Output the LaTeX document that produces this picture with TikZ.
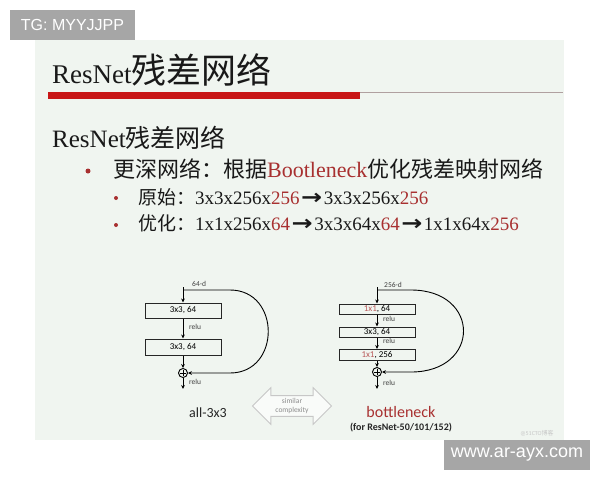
\documentclass[tikz,border=0pt]{standalone}
\usepackage{graphicx}
\usepackage{fontspec}
\setmainfont{Liberation Serif}
\setsansfont{Carlito}
\newfontfamily\cjk{Noto Sans CJK SC}
\newfontfamily\wmfont{Liberation Sans}
\newfontfamily\arwfont{DejaVu Sans}
\usetikzlibrary{arrows.meta,positioning,calc,shapes.arrows}
\definecolor{slidebg}{RGB}{240,245,240}
\definecolor{barred}{RGB}{200,22,22}
\definecolor{txtred}{RGB}{168,48,48}
\definecolor{wmgray}{RGB}{166,166,166}
\newcommand{\redtxt}[1]{\textcolor{txtred}{#1}}
\newcommand{\rarw}{\kern1.5pt{\arwfont\bfseries\fontsize{21}{21}\selectfont\scalebox{1.2}[1]{→}}\kern1.5pt}
\tikzset{
  line/.style={anchor=base west, inner sep=0, text=black!90},
  dotmark/.style={circle, fill=txtred, inner sep=0, minimum size=#1},
  convbox/.style={draw=black!85, line width=1pt, inner sep=0, minimum width=76pt, font=\sffamily\fontsize{9}{9}\selectfont},
  lbl/.style={anchor=west, inner sep=0, text=black!75, font=\sffamily\fontsize{7.5}{7.5}\selectfont},
  flow/.style={-{Stealth[length=4pt,width=3.6pt]}, line width=0.9pt},
  sumnode/.style={circle, draw, line width=0.9pt, minimum size=9pt, inner sep=0,
    path picture={\draw[line width=0.7pt]
      ($(path picture bounding box.center)+(-2.8,0)$) -- ($(path picture bounding box.center)+(2.8,0)$)
      ($(path picture bounding box.center)+(0,-2.8)$) -- ($(path picture bounding box.center)+(0,2.8)$);}},
  cmplx/.style={double arrow, draw=black!22, fill=white!60!slidebg, line width=0.8pt,
    minimum height=79pt, double arrow head extend=8pt, inner sep=2.5pt, align=center,
    text=black!45, font=\sffamily\fontsize{7.5}{8.5}\selectfont},
  wmark/.style={fill=wmgray, text=white, inner sep=0, minimum height=30pt}
}

\begin{document}
\begin{tikzpicture}[x=1pt, y=-1pt]
  \useasboundingbox (0,0) rectangle (600,480);
  \fill[white] (0,0) rectangle (600,480);
  \fill[slidebg] (35,40) rectangle (564,440);
  % title bar
  \fill[barred] (48,92) rectangle (360,99);
  \draw[line width=0.8pt, color={rgb,255:red,176;green,160;blue,160}] (360,92.4) -- (563,92.4);

  \node[line, font=\fontsize{27}{27}\selectfont] (title) at (52,83) {ResNet{\cjk\fontsize{35}{35}\selectfont 残差网络}};
  \node[line, font=\fontsize{25}{25}\selectfont] (sub) at (52,147) {ResNet{\cjk 残差网络}};

  % bullets
  \node[dotmark=5pt] (d1) at (88,171) {};
  \node[line, font=\fontsize{22}{22}\selectfont] (b1) at (113,177) {{\cjk 更深网络：根据}\redtxt{Bootleneck}{\cjk 优化残差映射网络}};
  \node[dotmark=4pt] (d2) at (116,198) {};
  \node[line, font=\fontsize{19}{19}\selectfont] (b2) at (138,204) {{\cjk 原始：}3x3x256x\redtxt{256}\rarw 3x3x256x\redtxt{256}};
  \node[dotmark=4pt] (d3) at (116,225) {};
  \node[line, font=\fontsize{19}{19}\selectfont] (b3) at (138,230) {{\cjk 优化：}1x1x256x\redtxt{64}\rarw 3x3x64x\redtxt{64}\rarw 1x1x64x\redtxt{256}};

  % plain block
  \coordinate (in1) at (183,287);
  \coordinate (sk1) at (183,290);
  \node[convbox, minimum height=15pt] (c11) at (183,310.5) {3x3, 64};
  \node[convbox, minimum height=16pt, below=20pt of c11] (c12) {3x3, 64};
  \node[sumnode] (s1) at (183,373) {};
  \coordinate (out1) at (183,389);
  \node[lbl] (dim1) at (192,284) {64-d};
  \node[lbl] (r11) at (189,327) {relu};
  \node[lbl] (r12) at (189,382) {relu};
  \draw[flow] (in1) -- (c11);
  \draw[flow] (c11) -- (c12);
  \draw[flow] (c12) -- (s1);
  \draw[flow] (s1) -- (out1);
  \draw[flow] (sk1) -- ++(47,0) .. controls +(51,0) and +(51,0) .. ($(s1)+(47,0)$) -- (s1);

  % bottleneck block
  \coordinate (in2) at (377,287);
  \coordinate (sk2) at (377,290);
  \node[convbox, minimum height=10pt] (c21) at (377,309) {\textcolor{txtred!80}{1x1}, 64};
  \node[convbox, minimum height=10.5pt, below=12pt of c21] (c22) {3x3, 64};
  \node[convbox, minimum height=10.5pt, below=11pt of c22] (c23) {\textcolor{txtred!80}{1x1}, 256};
  \node[sumnode] (s2) at (377,372) {};
  \coordinate (out2) at (377,389);
  \node[lbl] (dim2) at (384,285) {256-d};
  \node[lbl] (r21) at (383,319) {relu};
  \node[lbl] (r22) at (383,341) {relu};
  \node[lbl] (r23) at (383,383) {relu};
  \foreach \a/\b in {in2/c21,c21/c22,c22/c23,c23/s2,s2/out2}
    \draw[flow] (\a) -- (\b);
  \draw[flow] (sk2) -- ++(34,0) .. controls +(70,0) and +(70,0) .. ($(s2)+(34,0)$) -- (s2);

  \node[font=\sffamily\fontsize{14}{14}\selectfont, text=black!85] (lab1) at (208,413) {all-3x3};
  \node[cmplx] (cx) at (292,406) {similar\\complexity};
  \node[font=\sffamily\fontsize{16}{16}\selectfont, text=txtred] (lab2) at (401,412) {bottleneck};
  \node[font=\sffamily\bfseries\fontsize{10}{10}\selectfont, text=black!85] (lab3) at (401,428) {(for ResNet-50/101/152)};
  \node[font=\sffamily\fontsize{6}{6}\selectfont, text=black!22] (src) at (537,433) {@51CTO{\cjk 博客}};

  % overlays
  \node[wmark, minimum width=125pt, font=\wmfont\fontsize{16}{16}\selectfont] (tg) at (72.5,25) {TG: MYYJJPP};
  \node[wmark, minimum width=146pt, font=\wmfont\fontsize{18}{18}\selectfont] (site) at (517,455) {www.ar-ayx.com};
\end{tikzpicture}
\end{document}
